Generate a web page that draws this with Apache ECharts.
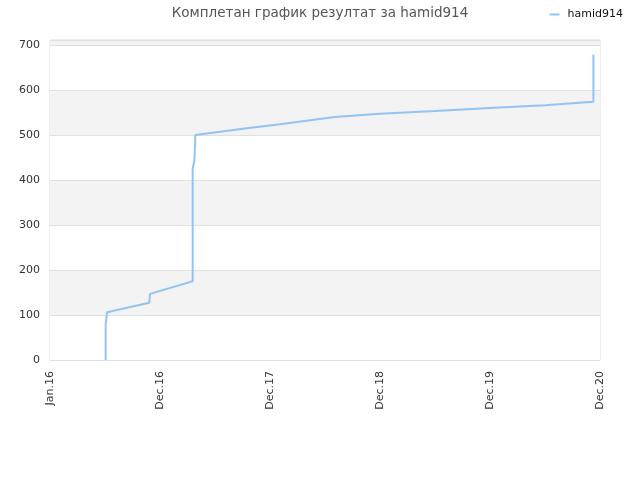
<!DOCTYPE html>
<html>
<head>
<meta charset="utf-8">
<script src="https://cdn.jsdelivr.net/npm/echarts@6/dist/echarts.min.js"></script>
<style>
  html, body { margin: 0; padding: 0; background: #fff; }
  #main { width: 640px; height: 480px; }
</style>
</head>
<body>
<div id="main"></div>
<script>
// x positions in axis units (100 units per tick label)
const tickLabels = ['Jan.16', 'Dec.16', 'Dec.17', 'Dec.18', 'Dec.19', 'Dec.20'];
const xValues = [50.6, 50.6, 51.8, 90.3, 90.9, 129.7, 129.7, 131.2, 132.2, 178.8, 209, 259, 300, 350, 400, 450, 494, 494];
const yValues = [0, 78, 106, 127, 147, 175, 426, 441, 500, 515, 524, 540, 547, 553, 560, 566, 574, 678];
const seriesName = 'hamid914';

const font = 'DejaVu Sans';
const points = xValues.map((x, i) => [x, yValues[i]]);

var myChart = echarts.init(document.getElementById('main'));
const option = {
    animation: false,
    title: {
        text: 'Комплетан график резултат за hamid914',
        left: 'center',
        top: 1,
        textStyle: { fontFamily: font, fontSize: 13.5, fontWeight: 'normal', color: '#555' }
    },
    legend: {
        right: 12,
        top: 4,
        itemWidth: 10,
        itemHeight: 2,
        icon: 'rect',
        textStyle: { fontFamily: font, fontSize: 11, color: '#111', padding: [0, 0, 0, 3] },
        data: [seriesName]
    },
    grid: {
        left: 50,
        right: 40,
        top: 40,
        bottom: 120,
        show: true,
        borderColor: '#ddd',
        borderWidth: 1,
        backgroundColor: 'transparent'
    },
    xAxis: {
        type: 'value',
        min: 0,
        max: 500,
        interval: 100,
        axisLine: { show: false },
        axisTick: { show: false },
        splitLine: { show: false },
        axisLabel: {
            rotate: 90,
            margin: 11,
            fontFamily: font,
            fontSize: 11,
            color: '#333',
            formatter: v => tickLabels[Math.round(v / 100)] || ''
        }
    },
    yAxis: {
        type: 'value',
        min: 0,
        max: 711,
        interval: 100,
        axisLine: { show: false },
        axisTick: { show: false },
        axisLabel: {
            fontFamily: font,
            fontSize: 11,
            color: '#333',
            margin: 10,
            formatter: v => (v % 100 === 0 ? v : '')
        },
        splitLine: { lineStyle: { color: '#e0e0e0' } },
        splitArea: { show: true, areaStyle: { color: ['#ffffff', '#f3f3f3'] } }
    },
    series: [
        {
            name: seriesName,
            type: 'line',
            symbol: 'none',
            color: '#93c3f3',
            lineStyle: { color: '#93c3f3', width: 2 },
            data: points
        }
    ]
};
myChart.setOption(option);
</script>
</body>
</html>
